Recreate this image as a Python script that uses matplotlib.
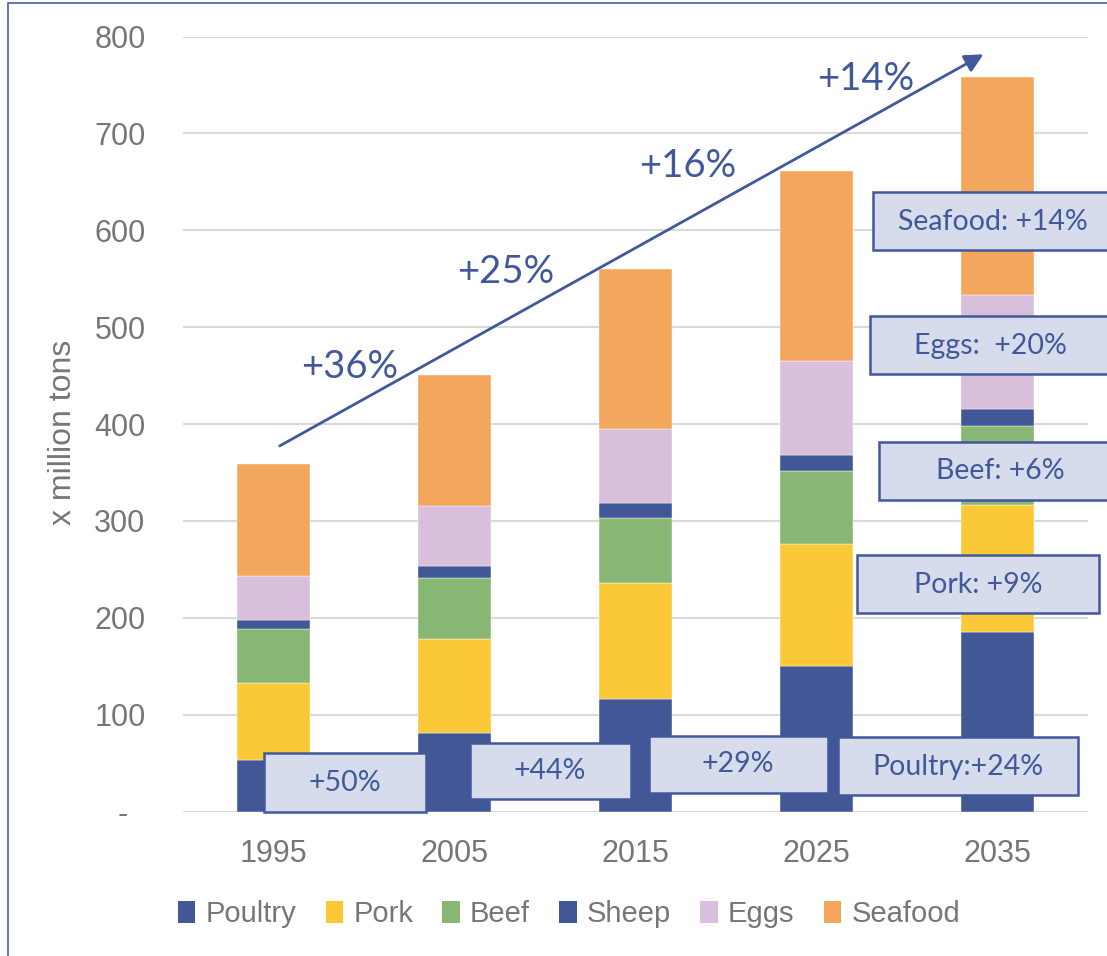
import matplotlib.pyplot as plt
import numpy as np
from matplotlib.patches import Rectangle, Patch

# Data (million tons)
years = ['1995', '2005', '2015', '2025', '2035']
poultry = [53, 81, 116, 150, 185]
pork = [80, 97, 120, 126, 131]
beef = [55, 63, 67, 75, 82]
sheep = [10, 12, 15, 17, 18]
eggs = [45, 62, 77, 97, 117]
seafood = [116, 136, 165, 196, 225]

series = ['Poultry', 'Pork', 'Beef', 'Sheep', 'Eggs', 'Seafood']
colors = ['#425796', '#FBC938', '#88B775', '#425796', '#D8BFDB', '#F3A75C']

growth_labels = ['+36%', '+25%', '+16%', '+14%']

W, H = 1107, 956
fig = plt.figure(figsize=(W / 100, H / 100), dpi=100)
ax = fig.add_axes([183 / W, 1 - 811.5 / H, 905 / W, 775 / H])

blue = '#41589A'
grey = '#767676'
tick_font = 'Liberation Sans'
box_font = 'Lato'

x = np.arange(len(years))
bottom = np.zeros(len(years))
for name, vals, c in zip(series, [poultry, pork, beef, sheep, eggs, seafood], colors):
    ax.bar(x, vals, width=0.4, bottom=bottom, color=c, edgecolor='white', linewidth=0.3, zorder=2)
    bottom += np.array(vals)

ax.set_xlim(-0.5, 4.5)
ax.set_ylim(0, 800)
ax.set_yticks(np.arange(0, 801, 100))
ax.set_yticklabels(['-  '] + [str(v) for v in range(100, 801, 100)])
ax.set_xticks(x)
ax.set_xticklabels(years)
ax.tick_params(axis='y', length=0, pad=27, labelsize=22, labelcolor=grey)
ax.tick_params(axis='x', length=0, pad=20, labelsize=22, labelcolor=grey)
for lab in ax.get_xticklabels() + ax.get_yticklabels():
    lab.set_fontfamily(tick_font)
ax.grid(axis='y', color='#D9D9D9', linewidth=1.5, zorder=0)
for s in ax.spines.values():
    s.set_visible(False)

fig.text(63 / W, 1 - 432 / H, 'x million tons', rotation=90, ha='center', va='center',
         fontsize=23, color=grey, family=tick_font)

# trend arrow with growth labels
ax.annotate('', xy=(3.936, 783), xytext=(0.021, 376),
            arrowprops=dict(arrowstyle='-|>', color=blue, lw=2, mutation_scale=28), zorder=5)
label_pos = [(0.42, 459), (1.285, 557), (2.29, 666), (3.27, 756)]
for (lx, ly), t in zip(label_pos, growth_labels):
    ax.text(lx, ly, t, ha='center', va='center', fontsize=27.5, color=blue, family=box_font, zorder=5)

# callout boxes (pixel positions)
boxes = [
    ((264, 753, 426, 812), (345, 783), '+50%'),
    ((470, 743, 631, 799), (550, 771), '+44%'),
    ((649, 736, 828, 793), (738, 764), '+29%'),
    ((838, 737, 1078, 795), (958, 767), 'Poultry:+24%'),
    ((857, 555, 1099, 613), (978, 585), 'Pork: +9%'),
    ((879, 442, 1130, 500), (1000, 471), 'Beef: +6%'),
    ((870, 316, 1130, 374), (990, 346), 'Eggs:  +20%'),
    ((873, 192, 1130, 250), (993, 222), 'Seafood: +14%'),
]
for (x0, y0, x1, y1), (tx, ty), t in boxes:
    fig.add_artist(Rectangle((x0 / W, 1 - y1 / H), (x1 - x0) / W, (y1 - y0) / H,
                             transform=fig.transFigure, facecolor='#D6DCEB',
                             edgecolor=blue, linewidth=1.8, zorder=6))
    fig.text(tx / W, 1 - ty / H, t, ha='center', va='center', fontsize=20.5,
             color=blue, family=box_font, zorder=7)

# legend
handles = [Patch(facecolor=c, edgecolor='none') for c in colors]
leg = fig.legend(handles, series, loc='center', bbox_to_anchor=(569 / W, 1 - 914 / H), ncol=6,
                 frameon=False, handlelength=0.6, handleheight=0.8,
                 handletextpad=0.35, columnspacing=1.0, prop={'family': tick_font, 'size': 21})
for t in leg.get_texts():
    t.set_color(grey)

# outer frame (left and top edges visible)
fig.add_artist(Rectangle((8 / W, -0.05), 1.1, 1 - 3 / H + 0.05, transform=fig.transFigure,
                         facecolor='none', edgecolor='#4A5FA0', linewidth=1.2, zorder=8))

fig.savefig('out.png', dpi=100)
